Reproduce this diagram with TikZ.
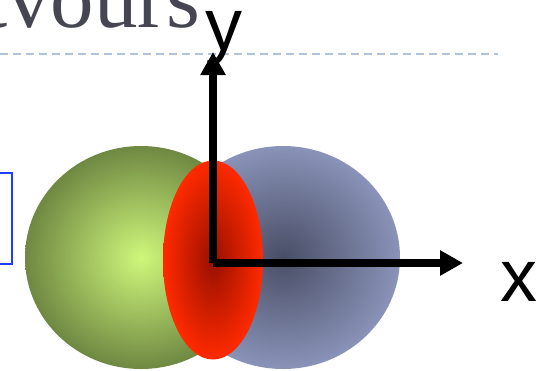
\documentclass[tikz,border=0pt]{standalone}
\usepackage{fontspec}
\setmainfont{Liberation Serif}
\newfontfamily\labelfont{Liberation Sans}
\usetikzlibrary{arrows.meta}

\definecolor{headgray}{HTML}{464652}
\definecolor{rulegray}{HTML}{B0C5D8}
\definecolor{boxblue}{HTML}{1F3CFF}
\definecolor{lobeAin}{HTML}{CFF77B}
\definecolor{lobeAout}{HTML}{6F8842}
\definecolor{lobeBin}{HTML}{494E66}
\definecolor{lobeBout}{HTML}{8A93B8}
\definecolor{nodeIn}{HTML}{981000}
\definecolor{nodeOut}{HTML}{FF2A00}

\begin{document}
\begin{tikzpicture}[
  x=1pt, y=-1pt,
  heading/.style={font=\fontsize{87}{87}\selectfont, text=headgray, inner sep=0pt},
  rule/.style={draw=rulegray, line width=2pt, dash pattern=on 7.5pt off 5.5pt},
  axis/.style={line width=7.5pt, -{Triangle[length=23pt, width=24pt]}},
  axlabel/.style={font=\labelfont\fontsize{74}{74}\selectfont, inner sep=0pt,
    text height=1ex, anchor=base}
]
\useasboundingbox (0,0) rectangle (543,370);
\clip (0,0) rectangle (543,370);

% slide heading and its rule
\node[heading, anchor=base west] (title) at (-17,27) {tvours};
\draw[rule] (0,54) -- (498,54);
\draw[boxblue, line width=1.5pt] (-20,173) rectangle (12,264);

% the two lobes and the nodal plane
\shade[inner color=lobeAin, outer color=lobeAout]
  (141,257.5) ellipse [x radius=116pt, y radius=111.5pt];
\shade[inner color=lobeBin, outer color=lobeBout]
  (283,257.5) ellipse [x radius=117pt, y radius=111.5pt];
\shade[inner color=nodeIn, outer color=nodeOut]
  (213,260) ellipse [x radius=50pt, y radius=99.5pt];

% axes
\coordinate (o) at (213,263);
\coordinate (ytip) at (213,52);
\coordinate (xtip) at (463,263);
\draw[axis] (o) -- (ytip);
\draw[axis] (o) -- (xtip);
\node[axlabel] (ylab) at (223.5,50) {y};
\node[axlabel] (xlab) at (518.5,301) {x};
\end{tikzpicture}
\end{document}
